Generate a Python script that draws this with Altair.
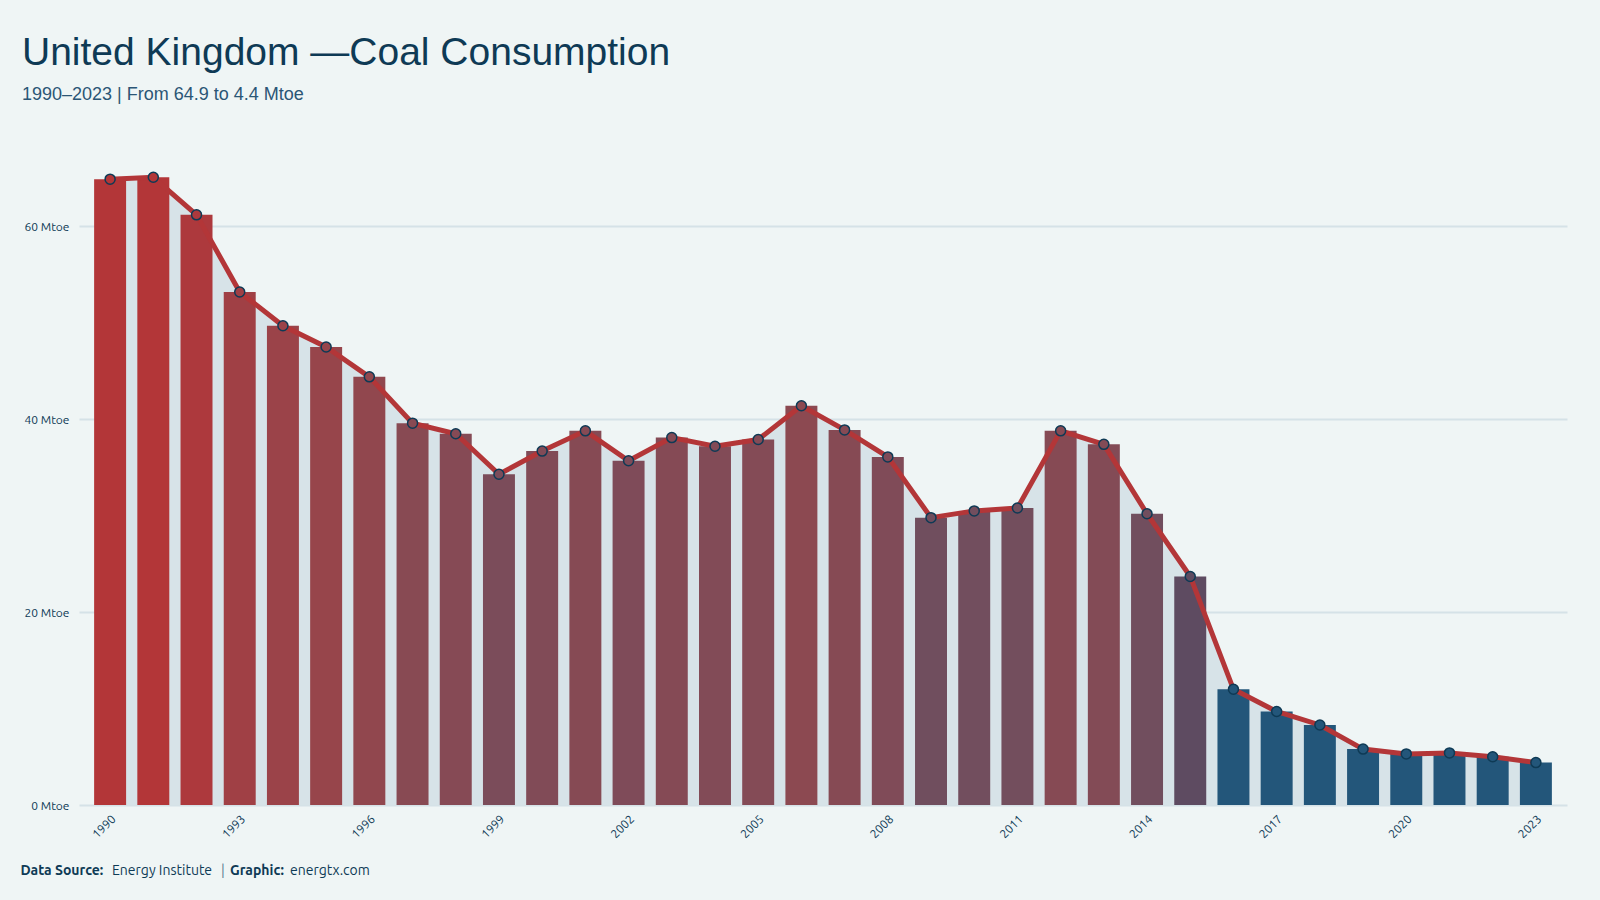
import altair as alt
import pandas as pd

years = list(range(1990, 2024))
values = [64.9, 65.1, 61.2, 53.2, 49.7, 47.5, 44.4, 39.6, 38.5, 34.3,
          36.7, 38.8, 35.7, 38.1, 37.2, 37.9, 41.4, 38.9, 36.1, 29.8,
          30.5, 30.8, 38.8, 37.4, 30.2, 23.7, 12.0, 9.7, 8.3, 5.8,
          5.3, 5.4, 5.0, 4.4]
tick_years = [1990, 1993, 1996, 1999, 2002, 2005, 2008, 2011, 2014, 2017, 2020, 2023]
y_ticks = [0, 20, 40, 60]

title_text = "United Kingdom \u2014Coal Consumption"
subtitle_text = "1990\u20132023 | From 64.9 to 4.4 Mtoe"
footer_parts = ["Data Source:", "Energy Institute", "|", "Graphic:", "energtx.com"]
footer_bold = [True, False, False, True, False]

df = pd.DataFrame({"year": years, "value": values})

NAVY = "#0e3a55"
RED = "#b33638"
BG = "#eff5f5"
COND = "Liberation Sans Narrow, Liberation Sans, Arial, sans-serif"
SANS = "Ubuntu, Noto Sans, DejaVu Sans, sans-serif"

color_scale = alt.Scale(
    domain=[12.0, 23.8, 29.8, 34.2, 39.6, 47.4, 53.2, 64.9],
    range=["#23567a", "#5e4b61", "#704e5e", "#7b4c5a", "#884a53", "#97454b", "#a04045", "#b33638"],
    clamp=True,
)

x_enc = alt.X(
    "year:O",
    scale=alt.Scale(paddingInner=0.26, paddingOuter=0.35),
    axis=alt.Axis(values=tick_years, labelAngle=-45, title=None, ticks=False, domain=False,
                  grid=False, labelFontSize=12, labelColor=NAVY, labelFont=SANS, labelPadding=8),
)
y_enc = alt.Y(
    "value:Q",
    scale=alt.Scale(domain=[0, 70], nice=False),
    axis=alt.Axis(values=y_ticks, labelExpr="datum.value + ' Mtoe'", title=None, ticks=False,
                  domain=False, gridColor="#d5e2e7", gridWidth=2, labelColor=NAVY,
                  labelFontSize=12, labelFont=SANS, labelPadding=10),
)

base = alt.Chart(df)
area = base.mark_area(color="#d7e3e8", opacity=1).encode(x=x_enc, y=y_enc)
bars = base.mark_bar().encode(
    x=x_enc, y=y_enc,
    color=alt.Color("value:Q", scale=color_scale, legend=None),
)
line = base.mark_line(color=RED, strokeWidth=5).encode(x=x_enc, y=y_enc)
points = base.mark_point(filled=True, size=100, stroke=NAVY, strokeWidth=1.5, opacity=1).encode(
    x=x_enc, y=y_enc,
    fill=alt.Fill("value:Q", scale=color_scale, legend=None),
)

title = alt.Chart(pd.DataFrame({"t": [title_text]})).mark_text(
    align="left", baseline="alphabetic", font=COND, fontSize=39, color=NAVY
).encode(text="t:N", x=alt.value(-57), y=alt.value(-65))
subtitle = alt.Chart(pd.DataFrame({"t": [subtitle_text]})).mark_text(
    align="left", baseline="alphabetic", font=COND, fontSize=18, color="#2b5676"
).encode(text="t:N", x=alt.value(-57), y=alt.value(-30))

footer_x = [-58.6, 33, 142, 151, 211]
footer_layers = []
for txt, bold, fx in zip(footer_parts, footer_bold, footer_x):
    footer_layers.append(
        alt.Chart(pd.DataFrame({"t": [txt]})).mark_text(
            align="left", baseline="alphabetic", font=SANS, fontSize=14,
            fontWeight="bold" if bold else "normal",
            color="#5a7a90" if txt == "|" else NAVY
        ).encode(text="t:N", x=alt.value(fx), y=alt.value(745))
    )

chart = alt.layer(area, bars, line, points, title, subtitle, *footer_layers).properties(
    width=1488, height=675,
    autosize=alt.AutoSizeParams(type="none"),
    padding={"left": 79, "top": 130, "right": 33, "bottom": 95},
    background=BG,
).configure_view(stroke=None)

chart.save("out.html", embed_options={"renderer": "svg", "actions": False})
